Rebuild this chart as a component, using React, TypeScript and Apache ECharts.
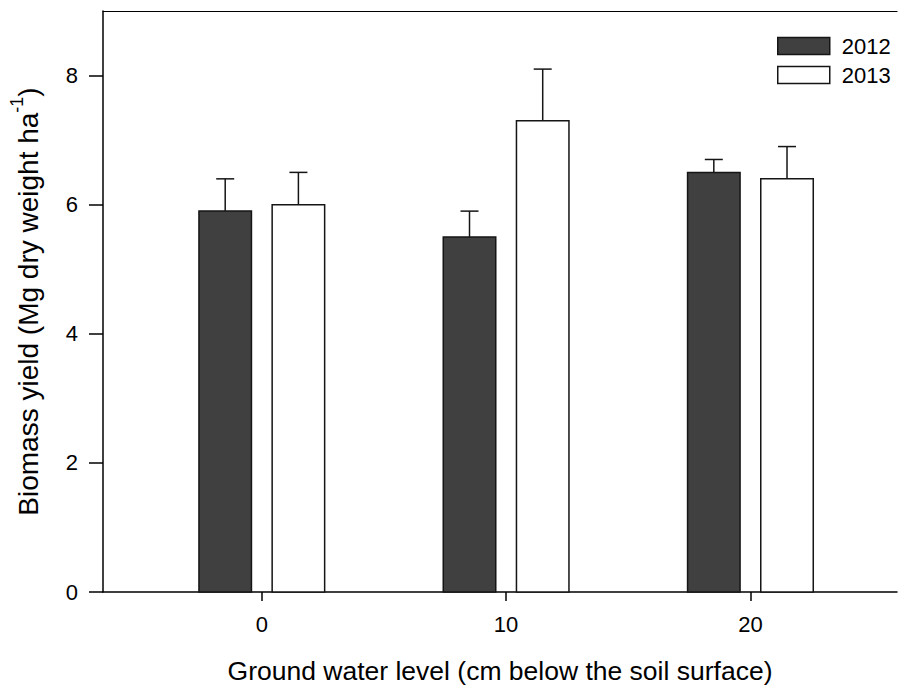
import React, { useEffect, useRef } from "react";
import * as echarts from "echarts";

const categories = [0, 10, 20];
const values2012 = [5.9, 5.5, 6.5];
const errors2012 = [0.5, 0.4, 0.2];
const values2013 = [6.0, 7.3, 6.4];
const errors2013 = [0.5, 0.8, 0.5];
const yTicks = [0, 2, 4, 6, 8];
const seriesNames = ["2012", "2013"];

const FONT = "'Liberation Sans', Arial, Helvetica, sans-serif";
const DARK = "#404040";
const STROKE = "#151515";
const BAR_W = 52.5;
const OFFSET = 36.6;
const CAP = 9;

function makeRender(offset: number, fill: string) {
  return (params: any, api: any) => {
    const x = api.value(0);
    const y = api.value(1);
    const e = api.value(2);
    const top = api.coord([x, y]);
    const base = api.coord([x, 0]);
    const errTop = api.coord([x, y + e]);
    const cx = top[0] + offset;
    return {
      type: "group",
      children: [
        {
          type: "line",
          shape: { x1: cx, y1: top[1], x2: cx, y2: errTop[1] },
          style: { stroke: STROKE, lineWidth: 1.5 },
        },
        {
          type: "line",
          shape: { x1: cx - CAP, y1: errTop[1], x2: cx + CAP, y2: errTop[1] },
          style: { stroke: STROKE, lineWidth: 1.5 },
        },
        {
          type: "rect",
          shape: { x: cx - BAR_W / 2, y: top[1], width: BAR_W, height: base[1] - top[1] },
          style: { fill, stroke: STROKE, lineWidth: 1.5 },
        },
      ],
    };
  };
}

export default function App() {
  const ref = useRef<HTMLDivElement>(null);
  useEffect(() => {
    if (!ref.current) return;
    const chart = echarts.init(ref.current, undefined, { renderer: "svg" });
    const data2012 = categories.map((c, i) => [c, values2012[i], errors2012[i]]);
    const data2013 = categories.map((c, i) => [c, values2013[i], errors2013[i]]);
    chart.setOption({
      animation: false,
      backgroundColor: "#ffffff",
      textStyle: { fontFamily: FONT },
      grid: { left: 103, right: 1, top: 11, bottom: 95, containLabel: false, outerBoundsMode: "none" },
      legend: {
        orient: "vertical",
        left: 777,
        top: 35,
        padding: 0,
        itemWidth: 52,
        itemHeight: 17,
        itemGap: 7,
        selectedMode: false,
        textStyle: { fontSize: 22, color: "#000", fontFamily: FONT, padding: [0, 0, 0, 7] },
        data: [
          { name: seriesNames[0], icon: "rect", itemStyle: { color: DARK, borderColor: STROKE, borderWidth: 1.5 } },
          { name: seriesNames[1], icon: "rect", itemStyle: { color: "#fff", borderColor: STROKE, borderWidth: 1.5 } },
        ],
      },
      xAxis: [
        {
          type: "value",
          min: -6.5,
          max: 26,
          position: "bottom",
          name: "Ground water level (cm below the soil surface)",
          nameLocation: "middle",
          nameGap: 65,
          nameTextStyle: { fontSize: 26.5, color: "#000", fontFamily: FONT },
          axisLine: { show: true, onZero: false, lineStyle: { color: "#000", width: 1.5 } },
          axisTick: { show: true, length: 9, inside: false, customValues: categories, lineStyle: { color: "#000", width: 1.5 } },
          axisLabel: { show: true, customValues: categories, margin: 21, fontSize: 22, color: "#000", fontFamily: FONT },
          splitLine: { show: false },
        },
        {
          type: "value",
          min: -6.5,
          max: 26,
          position: "top",
          axisLine: { show: true, onZero: false, lineStyle: { color: "#000", width: 1.2 } },
          axisTick: { show: false },
          axisLabel: { show: false },
          splitLine: { show: false },
        },
      ],
      yAxis: {
        type: "value",
        min: 0,
        max: 9,
        name: "{a|Biomass yield (Mg dry weight ha}{s|-1}{a|)}",
        nameLocation: "middle",
        nameRotate: 90,
        nameGap: 61,
        nameTextStyle: {
          color: "#000",
          fontFamily: FONT,
          rich: {
            a: { fontSize: 28, color: "#000", fontFamily: FONT, lineHeight: 34, verticalAlign: "bottom" },
            s: { fontSize: 18, color: "#000", fontFamily: FONT, lineHeight: 34, verticalAlign: "top" },
          },
        },
        axisLine: { show: true, onZero: false, lineStyle: { color: "#000", width: 1.5 } },
        axisTick: { show: true, length: 14, inside: false, customValues: yTicks, lineStyle: { color: "#000", width: 1.5 } },
        axisLabel: { show: true, customValues: yTicks, margin: 25, fontSize: 22, color: "#000", fontFamily: FONT },
        splitLine: { show: false },
      },
      series: [
        {
          name: seriesNames[0],
          type: "custom",
          renderItem: makeRender(-OFFSET, DARK),
          encode: { x: 0, y: 1 },
          data: data2012,
          itemStyle: { color: DARK, borderColor: STROKE, borderWidth: 1.5 },
          clip: false,
        },
        {
          name: seriesNames[1],
          type: "custom",
          renderItem: makeRender(OFFSET, "#ffffff"),
          encode: { x: 0, y: 1 },
          data: data2013,
          itemStyle: { color: "#ffffff", borderColor: STROKE, borderWidth: 1.5 },
          clip: false,
        },
      ],
    });
    return () => chart.dispose();
  }, []);
  return <div ref={ref} style={{ width: 898, height: 687, position: "absolute", left: 0, top: 0 }} />;
}
